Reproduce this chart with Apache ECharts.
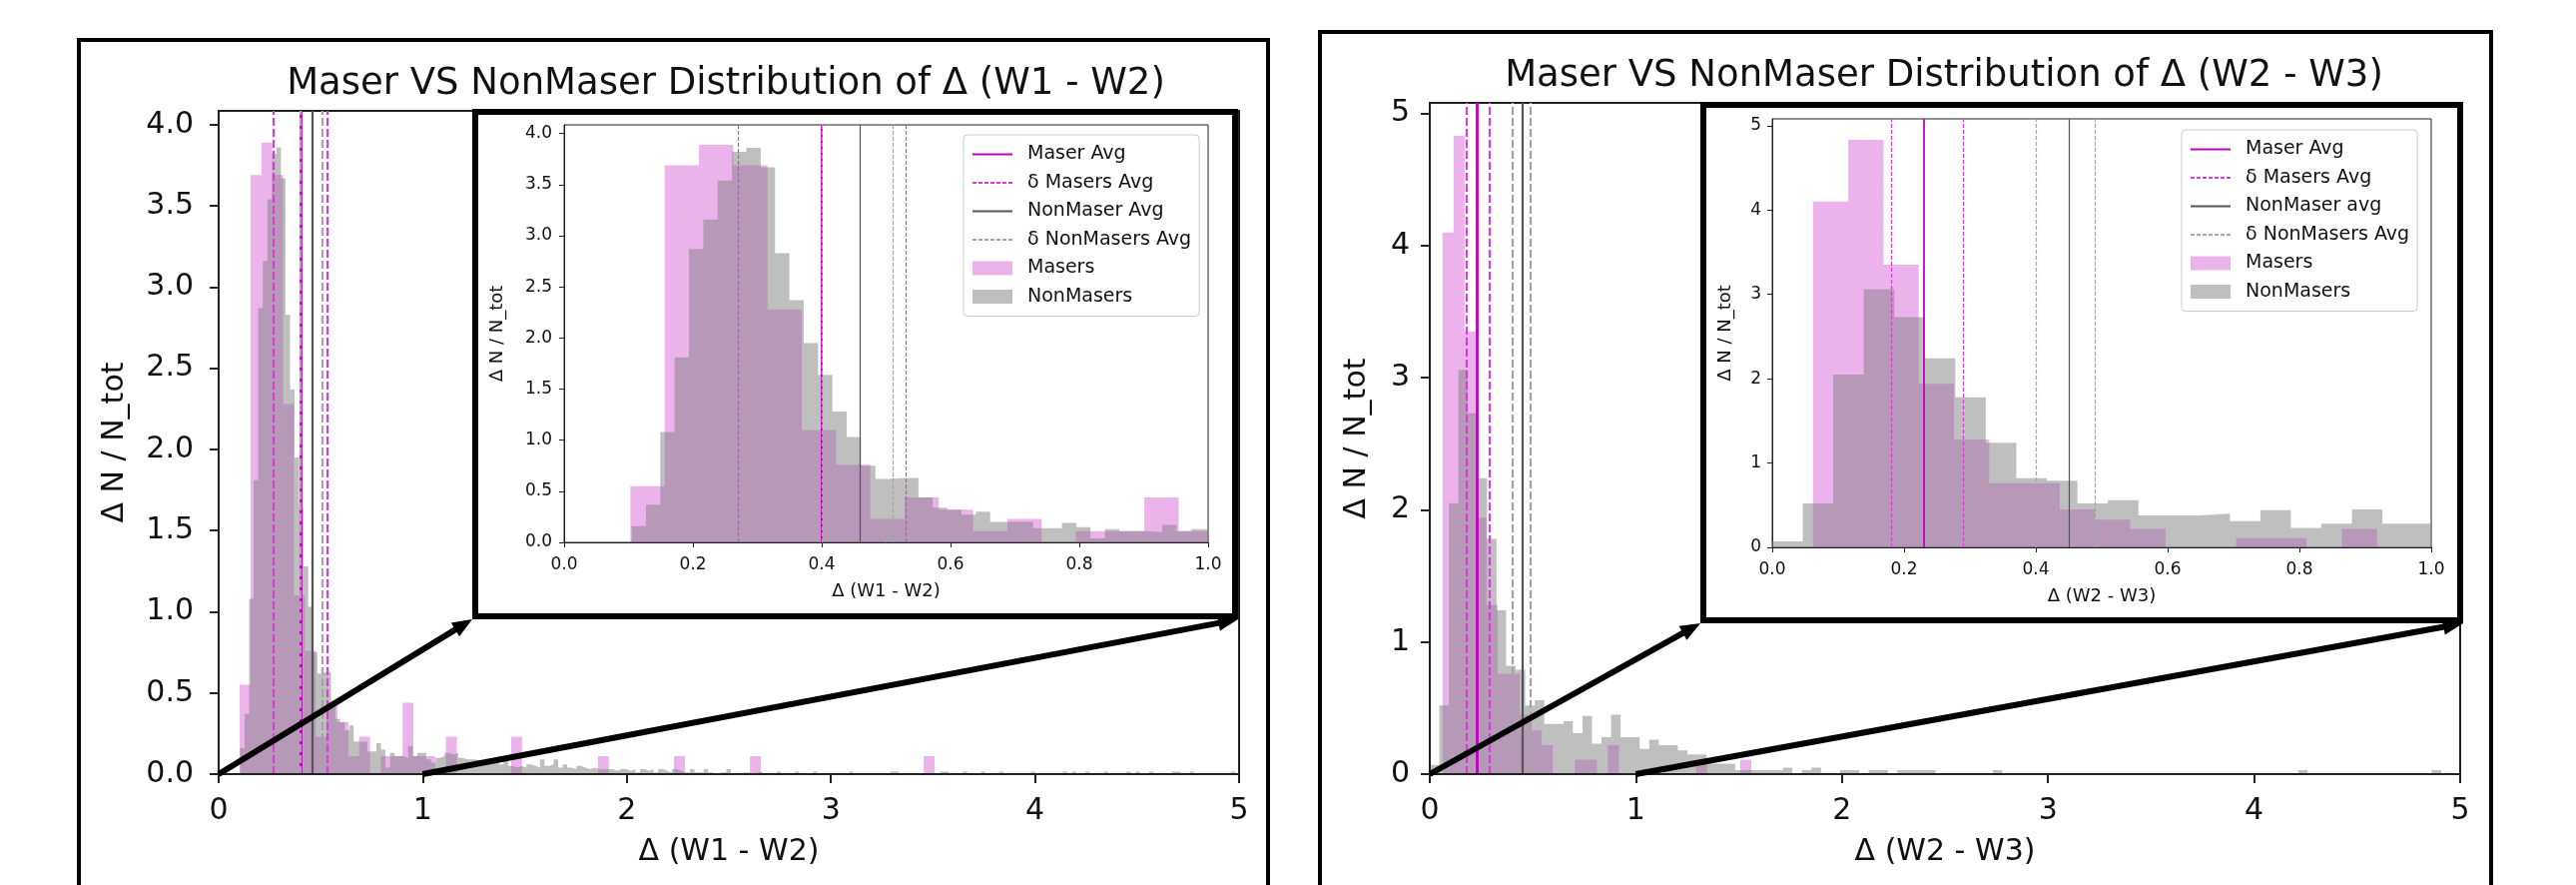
<!DOCTYPE html>
<html lang="en">
<head>
<meta charset="utf-8">
<title>Maser VS NonMaser</title>
<script src="https://cdn.jsdelivr.net/npm/echarts@6/dist/echarts.min.js"></script>
<style>
  html, body { margin: 0; padding: 0; background: #fff; }
  #main { width: 2580px; height: 886px; }
</style>
</head>
<body>
<div id="main"></div>
<script>
// ---- values ----
// Δ (W1 - W2): histogram bins (start, width, heights in ΔN/N_tot)
const maserW12Start = 0.103, maserW12Width = 0.0532;
const maserW12 = [
  0.55, 3.69, 3.89, 3.69, 2.28, 1.10, 0.76, 0.23, 0.44, 0.32,
  0.11, 0.23, 0, 0.11, 0.11, 0.44, 0.11, 0.11, 0, 0.23,
  0, 0, 0, 0, 0, 0.23, 0, 0, 0, 0,
  0, 0, 0, 0.11, 0, 0, 0, 0, 0, 0,
  0.11, 0, 0, 0, 0, 0, 0, 0.11, 0, 0,
  0, 0, 0, 0, 0, 0, 0, 0, 0, 0,
  0, 0, 0, 0.11
];
const nonW12Start = 0.1048, nonW12Width = 0.02227;
const nonW12 = [
  0.16, 0.37, 1.08, 1.81, 2.87, 3.16, 3.54, 3.82, 3.86, 3.67,
  2.83, 2.37, 1.95, 1.64, 1.28, 1.03, 0.75, 0.62, 0.63, 0.63,
  0.44, 0.34, 0.32, 0.27, 0.30, 0.20, 0.20, 0.20, 0.14, 0.14,
  0.19, 0.15, 0.04, 0.13, 0.11, 0.11, 0.10, 0.17, 0.11, 0.13,
  0.13, 0.09, 0.07, 0.10, 0.11, 0.13, 0.12, 0.13, 0.10, 0.09,
  0.09, 0.09, 0.08, 0.08, 0.09, 0.07, 0.08, 0.06, 0.08, 0.05,
  0.04, 0.05, 0.04, 0.06, 0.05, 0.04, 0.09, 0.05, 0.06, 0.09,
  0.04, 0.06, 0.04, 0.03, 0.05, 0.04, 0.03, 0.04, 0.03, 0.03,
  0.03, 0.03, 0.02, 0.03, 0.03, 0.02, 0.03, 0.01, 0.03, 0.02,
  0.03, 0.01, 0.03, 0.02, 0.01, 0.03, 0.02, 0.01, 0.01, 0.03,
  0.01, 0.01, 0.03, 0.01, 0, 0.01, 0.01, 0.03, 0, 0,
  0.01, 0.01, 0, 0.01, 0.015, 0, 0, 0, 0.015, 0,
  0, 0, 0.015, 0, 0, 0, 0.015, 0, 0, 0,
  0, 0, 0, 0, 0.015, 0, 0, 0, 0, 0,
  0, 0, 0, 0.015, 0.015, 0, 0, 0, 0, 0,
  0, 0, 0, 0, 0.015, 0.015, 0, 0, 0, 0.015,
  0, 0, 0, 0.015, 0, 0, 0, 0.015, 0, 0,
  0, 0, 0, 0, 0.015, 0, 0, 0, 0, 0,
  0, 0.015, 0, 0.015, 0, 0, 0.015, 0, 0, 0,
  0.015, 0, 0, 0, 0, 0.015, 0, 0.015, 0, 0,
  0.015, 0, 0, 0, 0, 0.015, 0.015, 0, 0, 0.015,
  0, 0, 0, 0, 0, 0, 0, 0, 0.015, 0
];
const maserW12Avg = 0.398, maserW12Band = [0.270, 0.525];
const nonW12Avg = 0.457, nonW12Band = [0.401, 0.513];

// Δ (W2 - W3)
const maserW23Start = 0.0618, maserW23Width = 0.0535;
const maserW23 = [
  4.10, 4.83, 3.35, 1.94, 1.28, 0.76, 0.76, 0.45, 0.33, 0.22,
  0, 0, 0.11, 0.11, 0, 0.22, 0, 0, 0, 0,
  0, 0, 0, 0.11, 0, 0, 0, 0.11
];
const nonW23Start = 0, nonW23Width = 0.0463;
const nonW23 = [
  0.07, 0.52, 2.05, 3.06, 2.73, 2.24, 1.78, 1.24, 0.82, 0.79,
  0.52, 0.56, 0.38, 0.38, 0.40, 0.31, 0.44, 0.23, 0.28, 0.45,
  0.28, 0.28, 0.19, 0.26, 0.22, 0.22, 0.18, 0.15, 0.15, 0.08,
  0.08, 0.08, 0.03, 0.03, 0.03, 0.03, 0.03, 0.05, 0, 0.03,
  0.05, 0, 0, 0.03, 0.03, 0, 0.03, 0.03, 0, 0.03,
  0.03, 0.03, 0.03, 0, 0, 0, 0, 0, 0, 0.03,
  0, 0, 0, 0, 0, 0, 0, 0, 0, 0,
  0, 0, 0, 0, 0, 0, 0, 0, 0, 0,
  0, 0, 0, 0, 0, 0, 0, 0, 0, 0,
  0, 0.03, 0, 0, 0, 0, 0, 0, 0, 0,
  0, 0, 0, 0, 0, 0.03, 0, 0
];
const maserW23Avg = 0.232, maserW23Band = [0.176, 0.290];
const nonW23Avg = 0.445, nonW23Band = [0.397, 0.492];

// tick values
const mainXTicks = [0, 1, 2, 3, 4, 5];
const insetXTicks = [0, 0.2, 0.4, 0.6, 0.8, 1.0];
const w12YTicks = [0, 0.5, 1, 1.5, 2, 2.5, 3, 3.5, 4];
const w23YTicks = [0, 1, 2, 3, 4, 5];

// ---- chart ----
const FONT = 'DejaVu Sans';
const PINK = 'rgba(191,0,191,0.3)';
const GREY = 'rgba(128,128,128,0.5)';
const NO_SYMBOL = { color: 'rgba(0,0,0,0)', borderColor: 'rgba(0,0,0,0)', borderWidth: 0, opacity: 0 };
const fmt1 = v => v.toFixed(1);
const fmt0 = v => String(Math.round(v));

// step outline of a histogram: one filled polygon per series
function histPoints(start, width, heights) {
  const pts = [[start, 0]];
  heights.forEach((h, i) => pts.push([start + i * width, h]));
  const end = start + heights.length * width;
  pts.push([end, heights[heights.length - 1]]);
  pts.push([end, 0]);
  return pts;
}

const panels = [
  {
    title: 'Maser VS NonMaser Distribution of Δ (W1 - W2)', xName: 'Δ (W1 - W2)',
    maser: histPoints(maserW12Start, maserW12Width, maserW12),
    non: histPoints(nonW12Start, nonW12Width, nonW12),
    maserAvg: maserW12Avg, maserBand: maserW12Band, nonAvg: nonW12Avg, nonBand: nonW12Band,
    nonAvgName: 'NonMaser Avg', yMax: 4.085, yTicks: w12YTicks, yFmt: fmt1,
    main: { left: 219, top: 111, width: 1022, height: 664, yLabelMargin: 25, yNameGap: 89 },
    inset: { left: 565, top: 125, width: 645, height: 418, yLabelMargin: 12, yNameGap: 58 },
    box: { x: 476, y: 112, width: 761, height: 505 },
    frame: { x: 79, y: 40, width: 1191, height: 900 },
    titlePos: { left: 727, top: 66 },
    legendPos: { left: 965, top: 135 }
  },
  {
    title: 'Maser VS NonMaser Distribution of Δ (W2 - W3)', xName: 'Δ (W2 - W3)',
    maser: histPoints(maserW23Start, maserW23Width, maserW23),
    non: histPoints(nonW23Start, nonW23Width, nonW23),
    maserAvg: maserW23Avg, maserBand: maserW23Band, nonAvg: nonW23Avg, nonBand: nonW23Band,
    nonAvgName: 'NonMaser avg', yMax: 5.08, yTicks: w23YTicks, yFmt: fmt0,
    main: { left: 1432, top: 103, width: 1032, height: 672, yLabelMargin: 20, yNameGap: 58 },
    inset: { left: 1775, top: 119, width: 660, height: 429, yLabelMargin: 11, yNameGap: 38 },
    box: { x: 1706, y: 105, width: 758, height: 516 },
    frame: { x: 1322, y: 32, width: 1173, height: 900 },
    titlePos: { left: 1947, top: 58 },
    legendPos: { left: 2185, top: 130 }
  }
];

const grid = [], xAxis = [], yAxis = [], series = [], title = [], legend = [], graphic = [];

function addAxes(p, g, inset) {
  const L = inset ? p.inset : p.main;
  grid.push({
    left: L.left, top: L.top, width: L.width, height: L.height,
    show: true, borderColor: '#222', borderWidth: inset ? 1 : 2,
    backgroundColor: 'transparent', z: inset ? 21 : 0
  });
  const axisZ = inset ? 22 : 3;
  const tickLen = inset ? 5 : 9;
  const lw = inset ? 1 : 2;
  const fs = inset ? 17 : 30;
  xAxis.push({
    type: 'value', gridIndex: g, min: 0, max: inset ? 1 : 5, interval: inset ? 0.2 : 1,
    name: p.xName, nameLocation: 'middle', nameGap: inset ? 40 : 63,
    nameTextStyle: { fontFamily: FONT, fontSize: inset ? 18 : 30, color: '#111' },
    axisLine: { show: true, onZero: false, lineStyle: { color: '#222', width: lw } },
    axisTick: { show: true, length: tickLen, lineStyle: { color: '#222', width: lw },
      customValues: inset ? insetXTicks : mainXTicks },
    axisLabel: { fontFamily: FONT, fontSize: fs, color: '#111', margin: inset ? 14 : 22,
      formatter: inset ? fmt1 : fmt0, customValues: inset ? insetXTicks : mainXTicks },
    splitLine: { show: false }, z: axisZ
  });
  yAxis.push({
    type: 'value', gridIndex: g, min: 0, max: p.yMax, interval: p.yTicks[1],
    name: 'Δ N / N_tot', nameLocation: 'middle', nameRotate: 90, nameGap: L.yNameGap,
    nameTextStyle: { fontFamily: FONT, fontSize: inset ? 18 : 30, color: '#111' },
    axisLine: { show: true, onZero: false, lineStyle: { color: '#222', width: lw } },
    axisTick: { show: true, length: tickLen, lineStyle: { color: '#222', width: lw },
      customValues: p.yTicks },
    axisLabel: { fontFamily: FONT, fontSize: fs, color: '#111', margin: L.yLabelMargin,
      formatter: p.yFmt, customValues: p.yTicks },
    splitLine: { show: false }, z: axisZ
  });
}

function hist(name, data, color, g, z) {
  return {
    type: 'line', name, xAxisIndex: g, yAxisIndex: g, data, step: 'end',
    symbol: 'none', showSymbol: false, silent: true, animation: false, z,
    lineStyle: { width: 0, opacity: 0 }, itemStyle: { color },
    areaStyle: { color, opacity: 1 }
  };
}

function vline(name, xs, ls, g, z) {
  return {
    type: 'line', name, xAxisIndex: g, yAxisIndex: g, data: [], symbol: 'none',
    animation: false, z, lineStyle: ls, itemStyle: { color: ls.color },
    markLine: {
      symbol: ['none', 'none'], silent: true, animation: false, z,
      label: { show: false }, lineStyle: Object.assign({}, ls),
      emphasis: { disabled: true },
      data: xs.map(v => ({ xAxis: v }))
    }
  };
}

function addSeries(p, g, inset) {
  const z = inset ? 23 : 2;
  const w = inset ? 1.2 : 2.2;
  const dash = inset ? [4, 2] : [8, 3];
  series.push(hist('Masers', p.maser, PINK, g, z));
  series.push(hist('NonMasers', p.non, GREY, g, z));
  series.push(vline('Maser Avg', [p.maserAvg], { color: '#c000c0', width: w + 0.6, type: 'solid' }, g, z + 1));
  series.push(vline('δ Masers Avg', p.maserBand, { color: '#dc3cdc', width: w, type: dash }, g, z + 1));
  series.push(vline(p.nonAvgName, [p.nonAvg], { color: '#555555', width: w, type: 'solid' }, g, z + 1));
  series.push(vline('δ NonMasers Avg', p.nonBand, { color: '#a4a4a4', width: w, type: dash }, g, z + 1));
}

panels.forEach((p, i) => {
  const gInset = i * 2, gMain = i * 2 + 1;
  addAxes(p, gInset, true);
  addAxes(p, gMain, false);
  addSeries(p, gInset, true);
  addSeries(p, gMain, false);

  title.push({
    text: p.title, left: p.titlePos.left, top: p.titlePos.top, textAlign: 'center', padding: 0,
    textStyle: { fontFamily: FONT, fontSize: 37, fontWeight: 'normal', color: '#111' }
  });

  legend.push({
    orient: 'vertical', left: p.legendPos.left, top: p.legendPos.top,
    padding: [10, 8, 10, 8], itemWidth: 40, itemHeight: 14, itemGap: 9.5,
    backgroundColor: 'rgba(255,255,255,0.85)', borderColor: '#cccccc', borderWidth: 1, borderRadius: 4,
    selectedMode: false, z: 30,
    textStyle: { fontFamily: FONT, fontSize: 19, color: '#111', padding: [0, 0, 0, 10] },
    data: [
      { name: 'Maser Avg', itemStyle: NO_SYMBOL },
      { name: 'δ Masers Avg', itemStyle: NO_SYMBOL },
      { name: p.nonAvgName, itemStyle: NO_SYMBOL },
      { name: 'δ NonMasers Avg', itemStyle: NO_SYMBOL },
      { name: 'Masers', icon: 'rect', itemStyle: { color: PINK, borderWidth: 0 } },
      { name: 'NonMasers', icon: 'rect', itemStyle: { color: GREY, borderWidth: 0 } }
    ]
  });

  graphic.push({
    type: 'rect', id: 'frame' + i, z: 1, silent: true,
    shape: p.frame, style: { fill: 'none', stroke: '#000', lineWidth: 4 }
  });
  graphic.push({
    type: 'rect', id: 'box' + i, z: 20, silent: true,
    shape: p.box, style: { fill: '#fff', stroke: '#000', lineWidth: 6 }
  });
});

const chart = echarts.init(document.getElementById('main'));
chart.setOption({
  animation: false,
  title, legend, grid, xAxis, yAxis, series, graphic
});

// zoom arrows: from the main axis (0,0) and (1,0) to the inset box corners
function arrow(id, p0, p1) {
  const dx = p1[0] - p0[0], dy = p1[1] - p0[1];
  const len = Math.hypot(dx, dy), ux = dx / len, uy = dy / len;
  const hl = 20, hw = 8;
  const bx = p1[0] - ux * hl, by = p1[1] - uy * hl;
  return [
    { type: 'line', id: id + 'l', z: 40, silent: true,
      shape: { x1: p0[0], y1: p0[1], x2: bx + ux * 2, y2: by + uy * 2 },
      style: { stroke: '#000', lineWidth: 6 } },
    { type: 'polygon', id: id + 'h', z: 40, silent: true,
      shape: { points: [[p1[0], p1[1]], [bx - uy * hw, by + ux * hw], [bx + uy * hw, by - ux * hw]] },
      style: { fill: '#000' } }
  ];
}
const arrows = [];
panels.forEach((p, i) => {
  const gMain = i * 2 + 1;
  const a = chart.convertToPixel({ gridIndex: gMain }, [0, 0]);
  const b = chart.convertToPixel({ gridIndex: gMain }, [1, 0]);
  const bl = [p.box.x - 3, p.box.y + p.box.height + 3];
  const br = [p.box.x + p.box.width + 3, p.box.y + p.box.height + 3];
  arrows.push(...arrow('a' + i, a, bl), ...arrow('b' + i, b, br));
});
chart.setOption({ graphic: arrows });
</script>
</body>
</html>
